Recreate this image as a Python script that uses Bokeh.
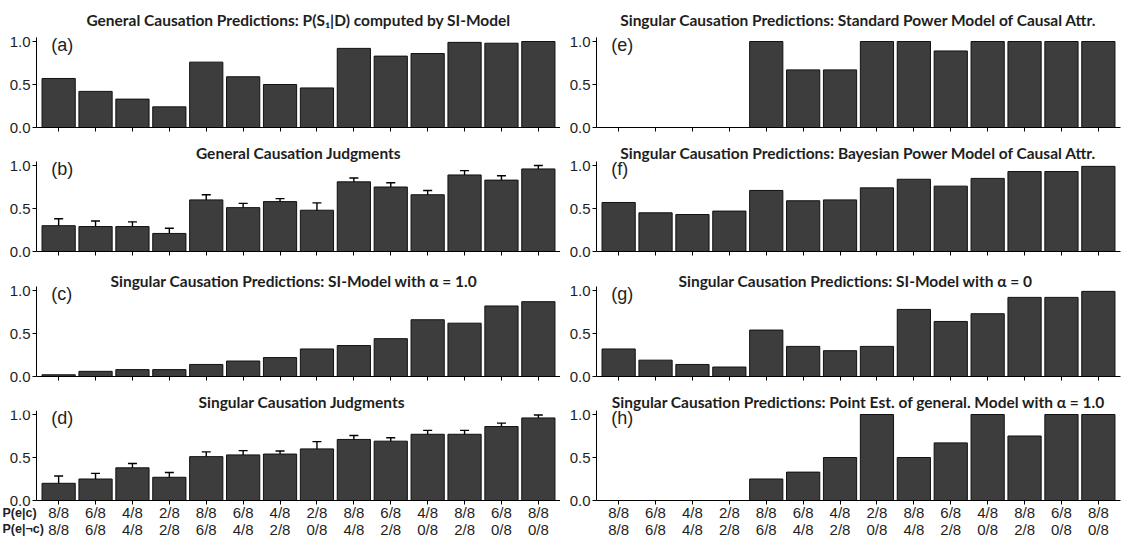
from bokeh.plotting import figure
from bokeh.models import (Range1d, FixedTicker, PrintfTickFormatter, Whisker, TeeHead,
                          ColumnDataSource, Label, LinearAxis)
from bokeh.layouts import column, row
from bokeh.embed import file_html
from bokeh.resources import INLINE

# ---------------- data ----------------
p_e_c = ["8/8", "6/8", "4/8", "2/8", "8/8", "6/8", "4/8", "2/8", "8/8", "6/8", "4/8", "8/8", "6/8", "8/8"]
p_e_notc = ["8/8", "6/8", "4/8", "2/8", "6/8", "4/8", "2/8", "0/8", "4/8", "2/8", "0/8", "2/8", "0/8", "0/8"]

a_general_pred = [0.57, 0.42, 0.33, 0.24, 0.76, 0.59, 0.50, 0.46, 0.92, 0.83, 0.86, 0.99, 0.98, 1.00]
b_general_judg = [0.30, 0.29, 0.29, 0.21, 0.60, 0.51, 0.58, 0.48, 0.81, 0.75, 0.66, 0.89, 0.83, 0.96]
b_general_err = [0.08, 0.065, 0.055, 0.06, 0.06, 0.05, 0.035, 0.085, 0.045, 0.05, 0.05, 0.05, 0.05, 0.04]
c_si_alpha1 = [0.02, 0.06, 0.08, 0.08, 0.14, 0.18, 0.22, 0.32, 0.36, 0.44, 0.66, 0.62, 0.82, 0.87]
d_singular_judg = [0.20, 0.25, 0.38, 0.27, 0.51, 0.53, 0.54, 0.60, 0.71, 0.69, 0.77, 0.77, 0.86, 0.96]
d_singular_err = [0.085, 0.065, 0.05, 0.055, 0.055, 0.05, 0.035, 0.085, 0.045, 0.04, 0.045, 0.045, 0.04, 0.035]
e_std_power = [0.0, 0.0, 0.0, 0.0, 1.0, 0.67, 0.67, 1.0, 1.0, 0.89, 1.0, 1.0, 1.0, 1.0]
f_bayes_power = [0.57, 0.45, 0.43, 0.47, 0.71, 0.59, 0.60, 0.74, 0.84, 0.76, 0.85, 0.93, 0.93, 0.99]
g_si_alpha0 = [0.32, 0.19, 0.14, 0.11, 0.54, 0.35, 0.30, 0.35, 0.78, 0.64, 0.73, 0.92, 0.92, 0.99]
h_point_est = [0.0, 0.0, 0.0, 0.0, 0.25, 0.33, 0.50, 1.0, 0.50, 0.67, 1.0, 0.75, 1.0, 1.0]

y_ticks = [0.0, 0.5, 1.0]
row_labels = ["P(e|c)", "P(e|\u00acc)"]

titles = {
    "a": "General Causation Predictions: P(S\u2081|D) computed by SI-Model",
    "b": "General Causation Judgments",
    "c": "Singular Causation Predictions: SI-Model with \u03b1 = 1.0",
    "d": "Singular Causation Judgments",
    "e": "Singular Causation Predictions: Standard Power Model of Causal Attr.",
    "f": "Singular Causation Predictions: Bayesian Power Model of Causal Attr.",
    "g": "Singular Causation Predictions: SI-Model with \u03b1 = 0",
    "h": "Singular Causation Predictions: Point Est. of general. Model with \u03b1 = 1.0",
}

xs = list(range(1, len(p_e_c) + 1))
PX_PER_UNIT = 86.0
FRAME_H = 90
FRAME_W = 524
X0, X1 = 0.4, 14.6
Y_TOP = FRAME_H / PX_PER_UNIT
PX_PER_X = FRAME_W / (X1 - X0)
BAR_FILL = "#3d3d3d"
TXT = "#1e1e1e"
TICK_FONT = "Liberation Sans"


def style_y(ax):
    ax.ticker = FixedTicker(ticks=y_ticks)
    ax.formatter = PrintfTickFormatter(format="%.1f")
    ax.major_tick_out = 4
    ax.major_tick_in = 0
    ax.minor_tick_out = 0
    ax.minor_tick_in = 0
    ax.major_label_standoff = 2
    ax.axis_line_color = "black"
    ax.major_tick_line_color = "black"
    ax.major_label_text_font = TICK_FONT
    ax.major_label_text_font_size = "15px"
    ax.major_label_text_color = TXT


def style_x(ax, labels):
    ax.axis_line_color = "black"
    ax.major_tick_in = 0
    ax.minor_tick_in = 0
    if labels:
        ax.ticker = FixedTicker(ticks=xs)
        ax.major_tick_out = 4
        ax.minor_tick_out = 0
        ax.major_tick_line_color = "black"
        ax.major_label_overrides = {x: f"{c}\n{n}" for x, c, n in zip(xs, p_e_c, p_e_notc)}
        ax.major_label_text_font = TICK_FONT
        ax.major_label_text_font_size = "15px"
        ax.major_label_text_color = TXT
        ax.major_label_standoff = -1
        ax.major_label_text_line_height = 1.0
    else:
        # tick marks only, no labels
        ax.ticker = FixedTicker(ticks=[], minor_ticks=xs)
        ax.major_tick_out = 0
        ax.minor_tick_out = 4
        ax.minor_tick_line_color = "black"


def style_title(p, letter, standoff, align="center", offset=0):
    p.title.text = titles[letter]
    p.title.align = align
    p.title.standoff = standoff
    p.title.offset = offset
    p.title.text_font = "Lato"
    p.title.text_font_style = "bold"
    p.title.text_font_size = "15.5px"
    p.title.text_color = TXT


def add_content(p, vals, letter, err):
    src = ColumnDataSource(dict(x=xs, top=vals))
    p.vbar(x="x", top="top", bottom=0, width=0.9, source=src,
           fill_color=BAR_FILL, line_color="#111111", line_width=1)
    if err is not None:
        esrc = ColumnDataSource(dict(x=xs,
                                     upper=[v + e for v, e in zip(vals, err)],
                                     lower=[v - e for v, e in zip(vals, err)]))
        p.add_layout(Whisker(source=esrc, base="x", upper="upper", lower="lower",
                             line_color="black", line_width=1.4,
                             upper_head=TeeHead(size=9, line_width=1.4, line_color="black"),
                             lower_head=TeeHead(size=9, line_width=1.4, line_color="black")))
    p.add_layout(Label(x=0.8, y=0.965, text=f"({letter})", text_font=TICK_FONT,
                       text_font_size="18px", text_baseline="middle", text_color=TXT))


def base_fig(**kw):
    p = figure(output_backend="svg", toolbar_location=None, **kw)
    p.outline_line_color = None
    p.xgrid.visible = False
    p.ygrid.visible = False
    p.background_fill_color = "white"
    p.border_fill_color = "white"
    return p


def panel(vals, letter, left, right, top, bottom, standoff, align="center", offset=0,
          err=None, xlabels=False):
    p = base_fig(frame_width=FRAME_W, frame_height=FRAME_H,
                 x_range=Range1d(X0, X1), y_range=Range1d(0, Y_TOP),
                 min_border_left=left, min_border_right=right,
                 min_border_top=top, min_border_bottom=bottom)
    style_title(p, letter, standoff, align, offset)
    add_content(p, vals, letter, err)
    style_y(p.yaxis[0])
    style_x(p.xaxis[0], xlabels)
    return p


def panel_with_row_labels(vals, letter, left, top, bottom, standoff, align="center", offset=0,
                          err=None):
    # frame extended over the margins so the row headers sit inside it
    x_start = X0 - left / PX_PER_X
    y_bottom = -bottom / PX_PER_UNIT
    p = base_fig(frame_width=FRAME_W + left, frame_height=FRAME_H + bottom,
                 x_range=Range1d(x_start, X1), y_range=Range1d(y_bottom, Y_TOP),
                 x_axis_location=None, y_axis_location=None,
                 min_border_left=0, min_border_right=0,
                 min_border_top=top, min_border_bottom=0)
    style_title(p, letter, standoff, align, offset)
    add_content(p, vals, letter, err)
    yax = LinearAxis(fixed_location=X0, bounds=(0, Y_TOP))
    style_y(yax)
    p.add_layout(yax, "left")
    xax = LinearAxis(fixed_location=0, bounds=(X0, X1))
    style_x(xax, True)
    p.add_layout(xax, "below")
    for txt, yy in zip(row_labels, [-0.14, -0.335]):
        p.add_layout(Label(x=X0 - 34 / PX_PER_X, y=yy, text=txt, text_font=TICK_FONT,
                           text_font_style="bold", text_font_size="12.5px",
                           text_baseline="middle", text_color=TXT))
    return p


# left column
pa = panel(a_general_pred, "a", 36, 0, 37, 14, 17)
pb = panel(b_general_judg, "b", 36, 0, 20, 14, 0, err=b_general_err)
pc = panel(c_si_alpha1, "c", 36, 0, 21, 14, -6, align="left", offset=74)
pd = panel_with_row_labels(d_singular_judg, "d", 36, 20, 41, -1, align="left", offset=198,
                           err=d_singular_err)

# right column
pe = panel(e_std_power, "e", 36, 3, 37, 14, 17)
pf = panel(f_bayes_power, "f", 36, 3, 20, 14, 0)
pg = panel(g_si_alpha0, "g", 36, 3, 21, 14, -6, align="left", offset=82)
ph = panel(h_point_est, "h", 36, 3, 20, 41, -1, xlabels=True)

layout = column(row(pa, pe), row(pb, pf), row(pc, pg), row(pd, ph))

open("out.html", "w").write(file_html(layout, INLINE))
